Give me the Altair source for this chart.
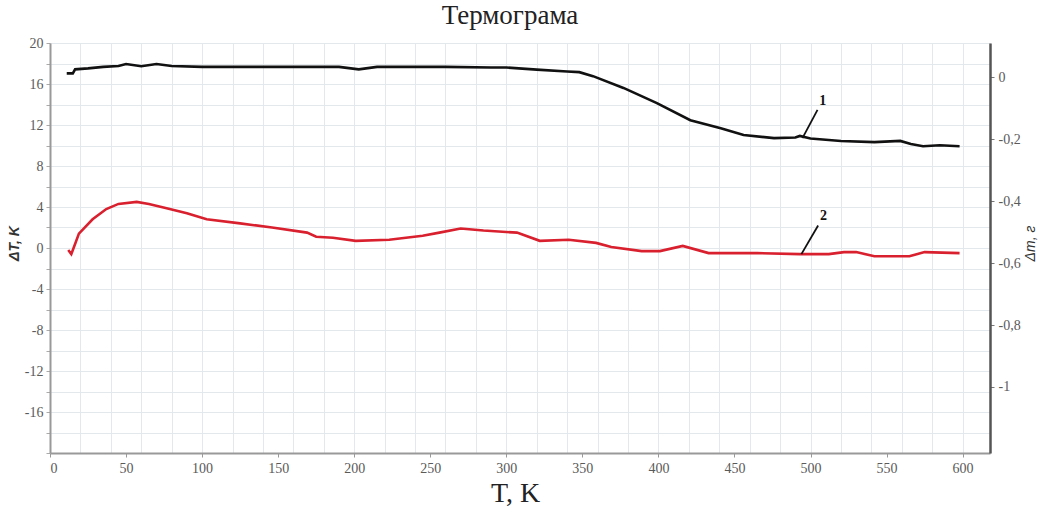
import altair as alt
import pandas as pd

# ---- data ----
T_black = [11, 15, 16.5, 25, 35, 45, 50, 60, 70, 80, 100, 150, 190, 203, 215, 230, 260, 290, 300, 320,
           340, 348, 357, 377, 399, 421, 441, 456, 476, 490, 493, 500, 520, 542, 559, 566, 574, 585, 598]
dm_black = [0.012, 0.012, 0.025, 0.028, 0.033, 0.036, 0.042, 0.035, 0.042, 0.036, 0.033, 0.033, 0.033, 0.025, 0.033,
            0.033, 0.033, 0.031, 0.031, 0.024, 0.018, 0.016, 0.003, -0.035, -0.084, -0.139, -0.165, -0.187,
            -0.197, -0.195, -0.190, -0.198, -0.206, -0.210, -0.206, -0.216, -0.223, -0.220, -0.223]

T_red = [12, 14, 16, 19, 28, 37, 45, 57, 65, 76, 90, 103, 125, 146, 169, 175, 186, 201, 223, 245, 256,
         270, 285, 307, 322, 341, 359, 369, 389, 401, 416, 433, 465, 493, 512, 522, 530, 542, 565, 575, 598]
dT_red = [-0.2, -0.6, 0.2, 1.4, 2.8, 3.8, 4.3, 4.5, 4.3, 3.9, 3.4, 2.8, 2.4, 2.0, 1.5, 1.1, 1.0, 0.7, 0.8, 1.2, 1.5,
          1.9, 1.7, 1.5, 0.7, 0.8, 0.5, 0.1, -0.3, -0.3, 0.2, -0.5, -0.5, -0.6, -0.6, -0.4, -0.4, -0.8, -0.8, -0.4, -0.5]

x_ticks = list(range(0, 611, 10))
left_ticks = list(range(-20, 21, 2))
right_ticks = [0, -0.2, -0.4, -0.6, -0.8, -1]

# annotation leaders: label, start (T, value), end (T1, value), text position (Tt, vt)
ann1 = {"label": ["1"], "T": [504.6], "v0": [-0.106], "T1": [494.7], "v1": [-0.197], "Tt": [508.0], "vt": [-0.078]}
ann2 = {"label": ["2"], "T": [505.0], "v0": [2.2], "T1": [494.0], "v1": [-0.6], "Tt": [508.5], "vt": [3.1]}

x_dom = [0, 618]
left_dom = [-20, 20]
right_dom = [-1.213, 0.11]

serif = "Liberation Serif"
sans = "Liberation Sans"

df_black = pd.DataFrame({"T": T_black, "v": dm_black})
df_red = pd.DataFrame({"T": T_red, "v": dT_red})
df_a1 = pd.DataFrame(ann1)
df_a2 = pd.DataFrame(ann2)

x_axis = alt.Axis(
    values=x_ticks,
    labelExpr="datum.value % 50 == 0 ? datum.label : ''",
    labelOverlap=False,
    labelFont=serif, labelFontSize=14, labelColor="#5a5a5a", labelPadding=4,
    tickOpacity={"condition": {"test": "datum.value % 50 == 0", "value": 1}, "value": 0},
    tickSize=4, tickColor="#999",
    grid=True,
    gridOpacity={"condition": {"test": "datum.value % 20 == 0 && datum.value > 0", "value": 1}, "value": 0},
    gridColor="#e2e8ec", gridWidth=1,
    domainColor="#999", domainWidth=2,
    title="T, K", titleFont=serif, titleFontSize=28, titleFontWeight="normal", titleColor="#222",
    titleX=465, titleY=40, titleBaseline="middle", titleAlign="center",
)
x_scale = alt.Scale(domain=x_dom, nice=False, zero=False)


def X(field):
    return alt.X(field, scale=x_scale, axis=x_axis, title="T, K")


left_axis = alt.Axis(
    orient="left",
    values=left_ticks,
    labelExpr="datum.value % 4 == 0 && datum.value > -20 ? (datum.value < 0 ? '-' : '') + format(abs(datum.value), 'd') : ''",
    labelOverlap=False,
    labelFont=serif, labelFontSize=14, labelColor="#5a5a5a", labelPadding=3,
    tickSize=4, tickColor="#aaa",
    grid=True, gridColor="#e2e8ec", gridWidth=1,
    domainColor="#999", domainWidth=2,
    title="ΔT, K", titleFont=sans, titleFontSize=14, titleFontStyle="italic", titleFontWeight="bold",
    titleColor="#333", titleAngle=270, titleX=-36, titleY=200, titleAlign="center", titleBaseline="middle",
)
right_axis = alt.Axis(
    orient="right",
    values=right_ticks,
    labelExpr="(datum.value < 0 ? '-' : '') + replace(format(abs(datum.value), '~g'), '.', ',')",
    labelOverlap=False,
    labelFont=serif, labelFontSize=14, labelColor="#5a5a5a", labelPadding=4,
    tickSize=4, tickColor="#777",
    grid=False,
    domainColor="#555", domainWidth=2.5,
    title="Δm, г", titleFont=sans, titleFontSize=14, titleFontStyle="italic", titleFontWeight="normal",
    titleColor="#333", titleAngle=270, titleX=40, titleY=200, titleAlign="center", titleBaseline="middle",
)

red = alt.Chart(df_red).mark_line(color="#d9202f", strokeWidth=2.6).encode(
    x=X("T:Q"),
    y=alt.Y("v:Q", scale=alt.Scale(domain=left_dom, nice=False, zero=False), axis=left_axis),
)
black = alt.Chart(df_black).mark_line(color="#111111", strokeWidth=2.6).encode(
    x=X("T:Q"),
    y=alt.Y("v:Q", scale=alt.Scale(domain=right_dom, nice=False, zero=False), axis=right_axis),
)


def leader(df, dom):
    ys = alt.Scale(domain=dom, nice=False, zero=False)
    rule = alt.Chart(df).mark_rule(color="#111", strokeWidth=1.8).encode(
        x=X("T:Q"), x2="T1:Q",
        y=alt.Y("v0:Q", scale=ys, axis=None), y2="v1:Q",
    )
    txt = alt.Chart(df).mark_text(font=serif, fontSize=14, fontWeight="bold", color="#111").encode(
        x=X("Tt:Q"),
        y=alt.Y("vt:Q", scale=ys, axis=None),
        text="label:N",
    )
    return rule, txt


r1, t1 = leader(df_a1, right_dom)
r2, t2 = leader(df_a2, left_dom)

chart = alt.layer(red, black, r1, t1, r2, t2).resolve_scale(y="independent").properties(
    width=940, height=410,
    padding={"left": 50, "top": 43, "right": 57, "bottom": 60},
    autosize=alt.AutoSizeParams(type="none"),
    title=alt.Title("Термограма", font=serif, fontSize=27, fontWeight="normal", color="#222",
                    anchor="middle", offset=6, dx=-10),
).configure_view(stroke="#c8c8c8", strokeDash=[2, 2]).configure(background="white")

chart.save("out.html", embed_options={"renderer": "svg", "actions": False})
